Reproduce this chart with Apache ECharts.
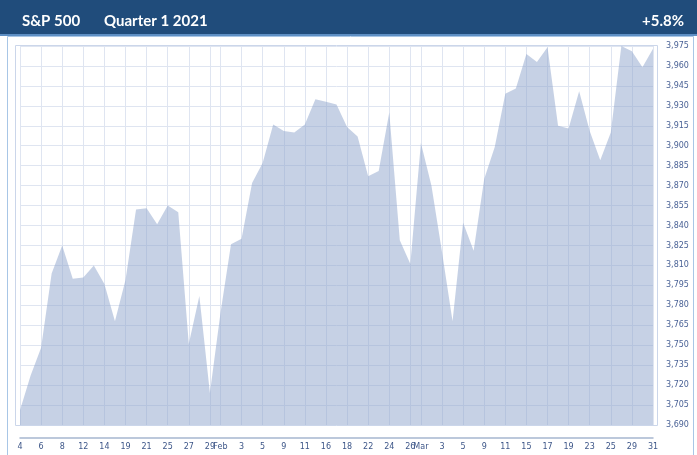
<!DOCTYPE html>
<html>
<head>
<meta charset="utf-8">
<script src="https://cdn.jsdelivr.net/npm/echarts@6/dist/echarts.min.js"></script>
<style>
  html, body { margin: 0; padding: 0; background: #fff; }
  #main { width: 697px; height: 455px; }
</style>
</head>
<body>
<div id="main"></div>
<script>
// trading days of Q1 2021, per month
var janDays = [4, 5, 6, 7, 8, 11, 12, 13, 14, 15, 19, 20, 21, 22, 25, 26, 27, 28, 29];
var febDays = [1, 2, 3, 4, 5, 8, 9, 10, 11, 12, 16, 17, 18, 19, 22, 23, 24, 25, 26];
var marDays = [1, 2, 3, 4, 5, 8, 9, 10, 11, 12, 15, 16, 17, 18, 19, 22, 23, 24, 25, 26, 29, 30, 31];

// closing level
var janClose = [3701, 3727, 3748, 3804, 3825, 3800, 3801, 3810, 3796, 3768, 3799, 3852, 3853, 3841, 3855, 3850, 3751, 3787, 3714];
var febClose = [3774, 3826, 3830, 3872, 3887, 3916, 3911, 3910, 3916, 3935, 3933, 3931, 3914, 3907, 3877, 3881, 3925, 3829, 3811];
var marClose = [3902, 3870, 3820, 3768, 3842, 3821, 3875, 3899, 3939, 3943, 3969, 3963, 3974, 3915, 3913, 3941, 3911, 3889, 3910, 3975, 3971, 3959, 3973];

var yTicks = { min: 3690, max: 3975, step: 15 };

(function () {
    var myChart = echarts.init(document.getElementById("main"));

    // build categories and labels: every other trading day, month name on the 1st
    var categories = [];
    var tickLabels = [];
    var shown = {};
    var values = [];
    function addMonth(name, days, close, showName) {
        days.forEach(function (d, k) {
            var idx = categories.length;
            categories.push(name + " " + d);
            values.push(close[k]);
            tickLabels.push(k === 0 && showName ? name : String(d));
            if (k % 2 === 0) shown[idx] = true;
        });
    }
    addMonth("Jan", janDays, janClose, false);
    addMonth("Feb", febDays, febClose, true);
    addMonth("Mar", marDays, marClose, true);

    var showTick = function (index) { return !!shown[index]; };

    var headFont = { color: "#fff", fontSize: 15, fontWeight: "bold", fontFamily: "Lato" };

    var option = {
        animation: false,
        textStyle: { fontFamily: "DejaVu Sans" },
        title: [
            { text: "S&P 500", left: 17, top: 9, textStyle: headFont },
            { text: "Quarter 1 2021", left: 99, top: 9, textStyle: headFont },
            { text: "+5.8%", right: 8, top: 9, textStyle: headFont }
        ],
        graphic: [
            { type: "rect", z: -10, shape: { x: 0, y: 0, width: 697, height: 35 }, style: { fill: "#204c7b" } },
            { type: "rect", z: -10, shape: { x: 0, y: 34, width: 697, height: 2 }, style: { fill: "#5e8fc4" } },
            { type: "rect", z: -10, shape: { x: 7.5, y: 36.5, width: 686, height: 420 },
              style: { fill: null, stroke: "#a8c6e6", lineWidth: 1 } },
            { type: "rect", z: 10, shape: { x: 15.5, y: 45.5, width: 642, height: 380 },
              style: { fill: null, stroke: "#cbd6ea", lineWidth: 1 } }
        ],
        grid: {
            left: 20,
            right: 44,
            top: 46,
            bottom: 30
        },
        xAxis: {
            type: "category",
            data: categories,
            boundaryGap: false,
            offset: 13,
            axisLine: { lineStyle: { color: "#a7b6cf", width: 1.5 } },
            axisTick: { show: false },
            axisLabel: {
                interval: showTick,
                formatter: function (v, i) { return tickLabels[i]; },
                color: "#3d5688",
                fontSize: 8,
                margin: 5
            },
            splitLine: {
                show: true,
                interval: showTick,
                lineStyle: { color: "#dfe5f1", width: 1 }
            }
        },
        yAxis: {
            type: "value",
            position: "right",
            min: yTicks.min,
            max: yTicks.max,
            interval: yTicks.step,
            axisLine: { show: false },
            axisTick: { show: false },
            axisLabel: {
                color: "#4a6296",
                fontSize: 8,
                margin: 13,
                formatter: function (v) { return echarts.format.addCommas(v); }
            },
            splitLine: { lineStyle: { color: "#dfe5f1", width: 1 } }
        },
        series: [
            {
                type: "line",
                data: values,
                symbol: "none",
                lineStyle: { width: 0 },
                areaStyle: { color: "#8ea4cb", opacity: 0.5 }
            }
        ]
    };
    myChart.setOption(option);
})();
</script>
</body>
</html>
